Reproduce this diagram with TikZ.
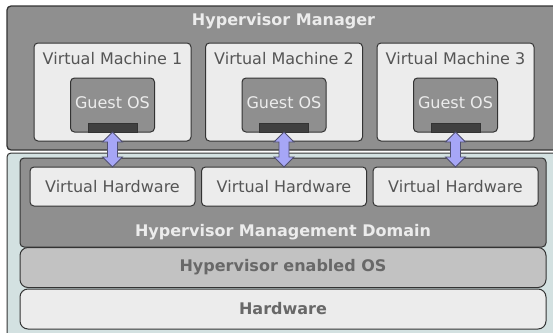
\documentclass[tikz,border=0pt]{standalone}
\usepackage{fontspec}
\setmainfont{DejaVu Sans}
\usepackage{tikz}
\usetikzlibrary{positioning}
\usetikzlibrary{calc}

\definecolor{edge}{HTML}{333333}
\definecolor{shell}{HTML}{8F8F8F}
\definecolor{paper}{HTML}{ECECEC}
\definecolor{hostbg}{HTML}{D3E1E1}
\definecolor{osgray}{HTML}{C2C2C2}
\definecolor{slot}{HTML}{404040}
\definecolor{inktext}{HTML}{555555}
\definecolor{boldtext}{HTML}{686868}
\definecolor{arrowfill}{HTML}{A6A6F6}
\definecolor{arrowedge}{HTML}{505070}

\tikzstyle{frame} = [draw=edge, line width=1pt, rounded corners=4pt,
                inner sep=0pt, outer sep=0pt]
\tikzstyle{vmbox} = [frame, fill=paper, minimum width=157pt, minimum height=98pt]
\tikzstyle{guest} = [frame, fill=shell, minimum width=84pt, minimum height=54pt]
\tikzstyle{slotbar} = [draw=edge, line width=0.8pt, fill=slot, inner sep=0pt, outer sep=0pt,
                minimum width=49pt, minimum height=9pt]
\tikzstyle{vhw} = [frame, fill=paper, minimum width=165pt, minimum height=39pt,
                font=\fontsize{16}{19}\selectfont, text=inktext]
\tikzstyle{layer} = [frame, rounded corners=8pt, minimum width=526pt, minimum height=40pt,
                font=\bfseries\fontsize{16}{19}\selectfont, text=boldtext]
\tikzstyle{plain} = [inner sep=0pt, anchor=base, font=\fontsize{16}{19}\selectfont]
\tikzstyle{heading} = [plain, font=\bfseries\fontsize{16}{19}\selectfont]
\tikzstyle{link} = [draw=arrowedge, fill=arrowfill, line width=0.8pt, line join=miter,
                to path={let \p1=(\tikztostart), \p2=(\tikztotarget) in
                  (\x1,\y1) -- ++(10pt,-10pt) -- ++(-5pt,0pt) -- (\x1+5pt,\y2+10pt)
                  -- ++(5pt,0pt) -- (\x1,\y2) -- ++(-10pt,10pt) -- ++(5pt,0pt)
                  -- (\x1-5pt,\y1-10pt) -- ++(-5pt,0pt) -- cycle}]

\begin{document}
\begin{tikzpicture}[x=1pt,y=-1pt]
    \useasboundingbox (0,0) rectangle (553,332);

    % host side and manager side
    \node[frame, fill=hostbg, anchor=north west, minimum width=560pt, minimum height=190pt](host) at (7,153){};
    \node[frame, fill=shell, line width=1.3pt, anchor=north west, minimum width=553pt, minimum height=144pt](manager) at (7,6){};
    \node[heading, text=paper] at ([yshift=-19pt]manager.north){Hypervisor Manager};

    % virtual machines
    \node[vmbox, anchor=north west](vm1) at (34,43){};
    \node[vmbox, right=14.5pt of vm1](vm2){};
    \node[vmbox, right=14.5pt of vm2](vm3){};
    \node[plain, text=inktext] at ([yshift=-21pt]vm1.north){Virtual Machine 1};
    \node[plain, text=inktext] at ([yshift=-21pt]vm2.north){Virtual Machine 2};
    \node[plain, text=inktext] at ([yshift=-21pt]vm3.north){Virtual Machine 3};

    \node[guest, below=35pt of vm1.north](guest1){};
    \node[guest, below=35pt of vm2.north](guest2){};
    \node[guest, below=35pt of vm3.north](guest3){};
    \node[plain, text=paper] at ([yshift=-30.7pt]guest1.north){Guest OS};
    \node[plain, text=paper] at ([yshift=-30.7pt]guest2.north){Guest OS};
    \node[plain, text=paper] at ([yshift=-30.7pt]guest3.north){Guest OS};
    \node[slotbar, above=0pt of guest1.south](bar1){};
    \node[slotbar, above=0pt of guest2.south](bar2){};
    \node[slotbar, above=0pt of guest3.south](bar3){};

    % stack on the host
    \node[frame, fill=shell, anchor=north west, minimum width=526pt, minimum height=89pt](domain) at (20,158){};
    \node[heading, text=paper] at ([yshift=10.3pt]domain.south){Hypervisor Management Domain};
    \node[vhw, anchor=north west](vh1) at (30,167){Virtual Hardware};
    \node[vhw, right=6.5pt of vh1](vh2){Virtual Hardware};
    \node[vhw, right=6.5pt of vh2](vh3){Virtual Hardware};
    \node[layer, fill=osgray, anchor=north west](hostos) at (20,247.5){Hypervisor enabled OS};
    \node[layer, fill=paper, below=1.5pt of hostos](hw){Hardware};

    \path[link](bar1.south) to (vh1.north);
    \path[link](bar2.south) to (vh2.north);
    \path[link](bar3.south) to (vh3.north);
\end{tikzpicture}
\end{document}
